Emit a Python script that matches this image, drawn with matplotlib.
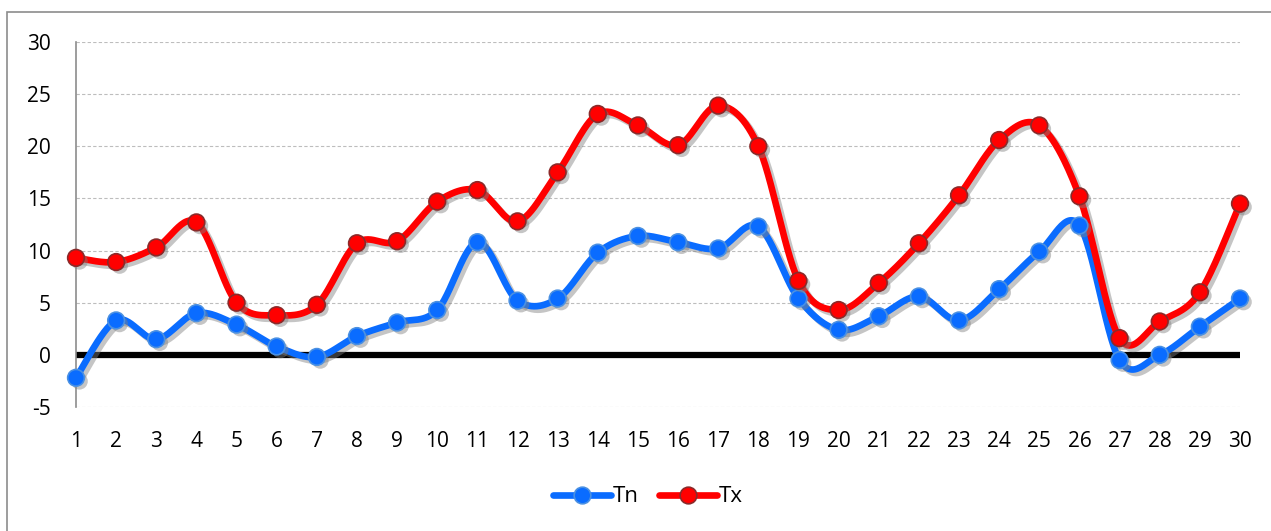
import numpy as np
import matplotlib
matplotlib.use("Agg")
import matplotlib.pyplot as plt
import matplotlib.patheffects as pe
from matplotlib.lines import Line2D
from matplotlib.patches import Rectangle

days = list(range(1, 31))
tn = [-2.2, 3.3, 1.5, 4.0, 2.9, 0.8, -0.2, 1.8, 3.1, 4.3,
      10.8, 5.2, 5.4, 9.8, 11.4, 10.8, 10.2, 12.3, 5.4, 2.4,
      3.7, 5.6, 3.3, 6.3, 9.9, 12.4, -0.5, 0.0, 2.7, 5.4]
tx = [9.3, 8.9, 10.3, 12.7, 5.0, 3.8, 4.8, 10.7, 10.9, 14.7,
      15.8, 12.8, 17.5, 23.1, 22.0, 20.1, 23.9, 20.0, 7.1, 4.3,
      6.9, 10.7, 15.3, 20.6, 22.0, 15.2, 1.6, 3.2, 6.0, 14.5]
yticks = [-5, 0, 5, 10, 15, 20, 25, 30]

plt.rcParams['font.family'] = ['Open Sans', 'DejaVu Sans']
plt.rcParams['axes.unicode_minus'] = False


def smooth(x, y, n=30):
    # Excel-like smoothed line: cubic Bezier with Catmull-Rom control points
    x = np.asarray(x, float)
    y = np.asarray(y, float)
    px = np.concatenate([[x[0]], x, [x[-1]]])
    py = np.concatenate([[y[0]], y, [y[-1]]])
    t = np.linspace(0, 1, n)[:-1]
    xs, ys = [], []
    for i in range(len(x) - 1):
        p0 = np.array([px[i + 1], py[i + 1]])
        p3 = np.array([px[i + 2], py[i + 2]])
        p1 = p0 + (np.array([px[i + 2], py[i + 2]]) - np.array([px[i], py[i]])) / 6
        p2 = p3 - (np.array([px[i + 3], py[i + 3]]) - np.array([px[i + 1], py[i + 1]])) / 6
        b = ((1 - t) ** 3)[:, None] * p0 + (3 * (1 - t) ** 2 * t)[:, None] * p1 \
            + (3 * (1 - t) * t ** 2)[:, None] * p2 + (t ** 3)[:, None] * p3
        xs.append(b[:, 0])
        ys.append(b[:, 1])
    xs.append([x[-1]])
    ys.append([y[-1]])
    return np.concatenate(xs), np.concatenate(ys)


fig = plt.figure(figsize=(12.71, 5.31), dpi=100)
ax = fig.add_axes([76 / 1271, 1 - 407 / 531, (1240 - 76) / 1271, (407 - 42) / 531])

fig.patches.append(Rectangle((7 / 1271, -0.05), 1.0, 0.05 + 1 - 12 / 531,
                             transform=fig.transFigure, fill=False,
                             edgecolor='#8c8c8c', linewidth=1.2))

ax.set_xlim(1, 30)
ax.set_ylim(-5, 30)
ax.set_yticks(yticks)
ax.set_xticks(days)
ax.grid(axis='y', linestyle=(0, (3, 2)), color='#bdbdbd', linewidth=0.8)
ax.set_axisbelow(True)
for s in ['top', 'right', 'bottom']:
    ax.spines[s].set_visible(False)
ax.spines['left'].set_color('#8c8c8c')
ax.spines['left'].set_linewidth(1.2)
ax.tick_params(length=0, labelsize=15, colors='black')
ax.tick_params(axis='y', pad=18)
ax.tick_params(axis='x', pad=17)

ax.axhline(0, color='black', linewidth=4.5, zorder=2)

shadow = [pe.SimpleLineShadow(offset=(2.5, -2.5), shadow_color='gray', alpha=0.45), pe.Normal()]
mshadow = [pe.SimplePatchShadow(offset=(2.5, -2.5), shadow_rgbFace='gray', alpha=0.45), pe.Normal()]

series = [(tn, '#0a6cff', '#4a90e2', 'Tn'), (tx, '#ff0000', '#8b2a2a', 'Tx')]
for vals, col, edge, name in series:
    sx, sy = smooth(days, vals)
    ax.plot(sx, sy, color=col, linewidth=4.8, solid_capstyle='round',
            path_effects=shadow, zorder=3, clip_on=False)
    ax.plot(days, vals, linestyle='none', marker='o', markersize=12,
            markerfacecolor=col, markeredgecolor=edge, markeredgewidth=1.2,
            path_effects=mshadow, zorder=4, clip_on=False)

handles = [Line2D([], [], color=c, linewidth=4.8, marker='o', markersize=12,
                  markerfacecolor=c, markeredgecolor=e, markeredgewidth=1.2,
                  solid_capstyle='round')
           for _, c, e, _ in series]
fig.legend(handles, [s[3] for s in series], loc='center',
           bbox_to_anchor=(0.51, 1 - 497 / 531), ncol=2, frameon=False,
           fontsize=16, handlelength=2.6, handletextpad=0.1, columnspacing=0.9)

fig.savefig('out.png', dpi=100)
